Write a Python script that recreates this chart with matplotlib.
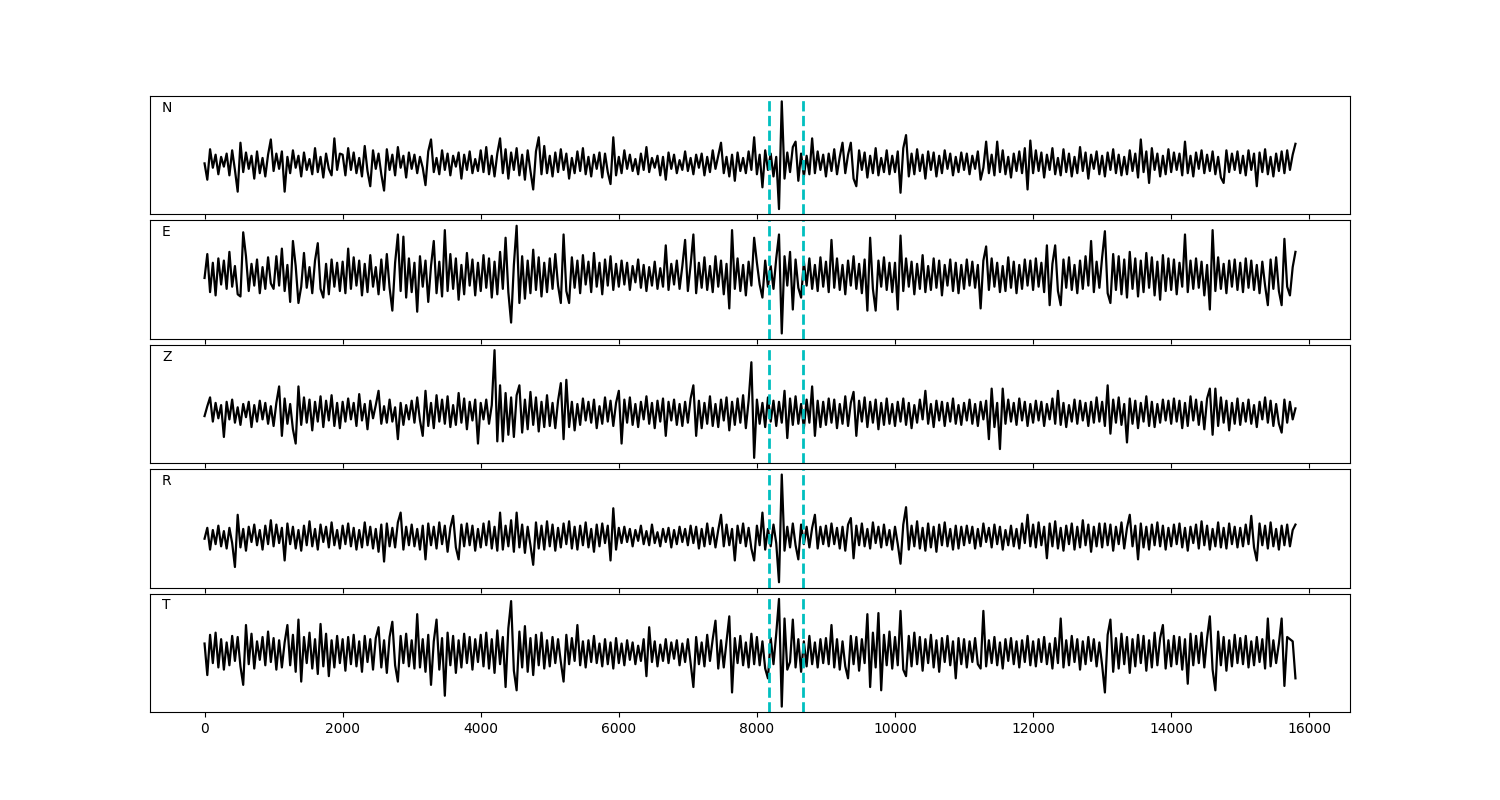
import numpy as np
import matplotlib
matplotlib.use("Agg")
import matplotlib.pyplot as plt

COMPONENTS = ["N", "E", "Z", "R", "T"]
T_START, T_END = 0, 15800
PICKS = [8170, 8670]

N_VALS = [
    0, -15, 13, -4, 8, -10, 6, -3, 9, -11, 12, -6, -26, 19, -8, 10, -5, 7, -14, 11, -9, 5, -12, 8, 22,
    -7, 9, -5, 11, -26, 6, -9, 12, -4, 7, -12, 10, -6, 4, -10, 14, -8, 6, -13, 9, -5, -11, 23, -6, 9,
    8, -11, 14, -6, 10, -9, 5, -12, 16, -7, -21, 12, -5, 9, -10, -25, 13, -6, 8, -11, 15, -4, 7, -13, 10,
    -5, 8, -9, 6, -4, -20, 11, 22, -8, 5, -10, 12, -6, 9, -11, 7, -3, 10, -14, 8, -6, 11, -9, 4, -7,
    12, -8, 15, -10, 7, -12, 9, 23, -9, 13, -14, 10, -6, 14, -11, 8, -15, 12, -7, -24, 11, 24, -10, 16, -9,
    7, -12, 10, -8, 13, -6, 9, -14, 5, -9, 11, -7, 14, -10, 6, -12, 8, -5, 10, -13, 9, -8, -19, 24, -11,
    6, -9, 12, -5, 8, -7, 4, -10, 9, -6, 15, -8, 5, -4, 7, -11, 6, -15, 10, -5, 8, -9, 3, -6, 11,
    -7, 5, -10, 8, -4, 9, -11, 6, -8, 12, -5, 7, 19, -9, 6, -12, 8, -16, 10, -7, 5, -9, 11, -6, 24,
    -10, 8, -22, 12, -6, 9, -12, 6, -42, 57, -14, 10, -8, 15, 20, -16, 9, -12, 7, -10, 23, -9, 11, -6, 8,
    -12, 9, -7, 13, -10, 6, 19, -9, 8, 19, -14, -21, 12, -6, 10, -13, 7, -9, 14, -11, 5, -8, 12, -10, 7,
    -8, 11, -27, 14, 26, -12, 9, -10, 13, -7, 8, -14, 11, -6, 10, -12, 7, -9, 12, -5, 9, -11, 6, -8, 10,
    -6, 9, -10, 7, -5, 11, -15, -4, 20, -9, 8, -11, 20, -8, 12, -10, 6, -13, 9, -7, 11, -9, 14, -24, 21,
    -9, 12, -7, 10, -13, 8, -6, 14, -10, 5, -11, 13, -8, 9, -12, 6, -9, 15, -7, 10, -14, 8, -5, 11, -10,
    7, -12, 10, -6, 13, -9, 8, -11, 6, -10, 12, -7, 9, -13, 22, -8, 11, -18, 14, -6, 9, -12, 7, -10, 13,
    -8, 10, -6, 9, -11, 20, -9, 7, -12, 10, -5, 12, -9, 8, -7, 11, -10, 6, -13, -18, 12, -8, 9, -6, 11,
    -9, 7, -11, 12, -6, 9, -21, 10, -8, 13, -10, 6, -12, 9, -7, 11, -9, 12, -6, 8, 18,
]

E_VALS = [
    -2, 20, -15, 12, -18, 16, -8, 14, -12, 22, -10, 9, -17, -19, 40, 18, -14, 11, -9, 15, -16, 8, -12, 17, -7,
    -12, 18, -9, 25, -14, 10, -24, 32, 9, -25, -10, 21, -11, 8, -16, 14, 30, -12, -20, 11, -17, 15, -10, 12, -14,
    13, -16, 25, -12, 17, -9, 14, -18, 11, -15, 19, -10, 8, -17, 15, -13, 20, -11, -32, 12, 38, -14, 36, -20, 16,
    -15, 12, -33, 18, -10, 14, -24, 9, 32, -16, 13, -19, 42, -14, 20, -12, 16, -22, 10, -17, 21, -9, 15, -18, 12,
    -14, 19, -11, 16, -20, 13, -17, 22, -12, 35, -15, -43, 10, 46, -25, 18, -21, 14, -16, 24, -13, 17, -19, 12, -15,
    16, -12, 20, -9, -25, 38, -14, -25, 17, -11, 14, -16, 19, -8, 13, -15, 21, -10, 12, -17, 15, -9, 18, -13, 11,
    -10, 14, -8, 12, -13, 9, -6, 15, -11, 10, -14, 8, -9, 13, -12, 7, -10, 28, -13, 11, -8, 14, -12, 9, 33,
    -14, 10, 38, -16, 12, -11, 17, -13, 9, -15, 18, -10, 14, -17, 11, -30, 42, -12, 16, -14, 10, -18, 13, -9, 35,
    12, -8, -20, 14, -10, 9, -12, 16, 38, -53, 18, -9, 22, -31, 15, -11, -20, 13, -9, 16, -12, 10, -14, 17, -10,
    13, -15, 33, -11, 16, -13, 10, -17, 14, -9, 18, -12, 11, -16, 15, -32, 35, -12, -32, 14, -10, 17, -13, 12, -15,
    12, -31, 37, -14, 16, -10, 13, -17, 11, -12, 19, -15, 9, -13, 16, -11, 14, -18, 10, -9, 15, -14, 12, -16, 10,
    -12, 15, -9, 13, -11, 10, -30, 14, 27, -13, 16, -10, 12, -15, 9, -14, 17, -11, 13, -16, 10, -12, 15, -9, 14,
    -13, 16, -10, 12, -15, 28, -27, 11, 28, -14, -27, 15, -11, 17, -13, 10, -16, 14, -12, 18, -9, 32, -15, 13, -11,
    17, 41, -16, -25, 20, -13, 18, -17, 15, -20, 22, -12, 16, -19, 14, -15, 21, -11, 17, -18, 13, -22, 19, -14, 16,
    -13, 15, -17, 12, -10, 38, -15, 14, -12, 16, -11, 13, -18, 10, -31, 42, -14, 17, -12, 11, -16, 14, -10, 15, -13,
    12, -15, 16, -11, 14, -13, 10, -16, 13, -9, -27, 15, -12, 17, -14, -27, 34, -10, -18, 8, 22,
]

Z_VALS = [
    -3, 6, 14, -8, 9, -5, 7, -22, 10, -6, 12, -9, 5, -11, 8, -4, 10, -13, 7, -8, 11, -6, 9, -10, 6,
    -12, 9, 24, -21, 13, -10, 8, -15, -28, 24, -11, 14, -9, 12, -16, 10, -8, 15, -13, 11, -7, 16, -12, 9, -14,
    10, -8, 13, -6, 9, -12, 17, -7, 8, -15, 11, -5, 7, 20, -10, 6, -9, 12, -8, 5, -24, 9, -11, 7, -6,
    11, -9, 14, -7, -21, 20, -12, 9, -14, 16, -8, 12, -10, 15, -13, 7, -11, 18, -9, 13, -15, 10, -7, 12, -28,
    9, -6, 12, -10, 7, 57, -26, 25, -26, 18, -20, 14, -22, 16, 25, -18, 12, -15, 19, -11, 14, -17, 10, -13, 16,
    -12, 9, -14, 11, 27, -24, 30, -13, 10, -16, 8, -11, 13, -7, 10, -9, 12, -14, 6, -10, 14, -8, 11, -12, 9,
    20, -28, 12, -9, 14, -11, 8, -13, 10, -6, 15, -10, 9, -14, 11, -8, 13, -21, 10, -7, 12, -11, 8, -12, 10,
    -9, 13, 25, -21, 11, -14, 9, -10, 15, -12, 8, -13, 12, -7, 14, -16, 10, -11, 13, -9, 16, -14, 11, 46, -41,
    12, -10, 9, -13, 14, -8, 11, -12, 10, -9, 20, -23, 13, -11, 15, -10, 8, -14, 12, -9, 24, -21, 11, -13, 10,
    -11, 13, -9, 12, -14, 8, -10, 15, -12, 9, 19, -21, 11, -8, 14, -13, 10, -9, 12, -15, 9, -11, 13, -10, 8,
    -12, 10, -8, 13, -11, 9, -14, 7, -9, 12, -6, 20, -10, 8, -13, 11, -7, 10, -12, 9, -8, 13, -10, 7, -11,
    9, -7, 12, -10, 8, -12, 10, -6, 11, -24, 22, -13, 9, -33, 22, -10, 12, -8, 9, -11, 13, -7, 10, -12, 8,
    -9, 11, -7, 10, -12, 8, -6, 13, -10, 20, -11, 9, -13, 7, -8, 12, -10, 11, -7, 9, -12, 10, -9, 14, -8,
    10, -12, 25, -19, 12, -9, 14, -11, 8, -27, 13, -10, 11, -14, 9, -8, 15, -12, 10, -13, 8, -9, 12, -7, 11,
    -10, 13, -8, 11, -14, 9, -12, 15, -7, 12, -11, 10, -15, 13, 22, -20, 22, -12, 14, -9, 11, -16, 9, -10, 13,
    -11, 9, -8, 12, -10, 7, -13, 10, -6, 14, -9, 11, -12, 8, -10, -18, 12, -9, 10, -6, 4,
]

R_VALS = [
    -2, 8, -12, 6, -7, 10, -9, 5, -11, 8, -6, -28, 20, -10, 7, -13, 9, -5, 11, -8, 6, -12, 10, -7, 15,
    -9, 11, -6, 8, -22, 12, -7, 9, -11, 6, -13, 10, -8, 14, -9, 7, -12, 11, -5, 9, -10, 13, -8, 6, -11,
    10, -7, 12, -9, 8, -12, 6, -10, 13, -8, 9, -11, 7, -14, 11, -23, 12, -9, 8, -10, 13, 22, -12, 9, -8,
    11, -9, 7, -12, 10, -21, 12, -8, 9, -11, 13, -7, 10, -14, 8, 19, -10, -21, 11, -9, 12, -8, 10, -13, 7,
    -10, 12, -8, 14, -11, 9, -13, 22, -12, 10, -9, 15, -14, 22, -10, 11, -15, 9, -8, -26, 13, -11, 10, -12, 14,
    -9, 11, -13, 8, -10, 12, -7, 14, -11, 9, -12, 10, -8, 13, -10, 7, -14, 11, -9, 12, -6, 10, -22, 26, -12,
    8, -6, 9, -5, 7, -9, 6, -4, 10, -7, 5, -8, 11, -6, 4, -9, 7, -5, 8, -10, 6, -7, 9, -5, 7,
    -8, 10, -6, 9, -11, 7, -9, 12, -7, 8, -10, 6, 20, -9, 11, -8, 7, -22, 10, -6, 12, -9, 8, -11, -22,
    10, -8, 22, -12, 7, -9, 11, -6, -42, 57, -13, 9, -10, 12, -8, -21, 11, -7, 9, -10, 8, 20, -11, 9, -7,
    10, -9, 12, -7, 8, -11, 9, -13, 11, 17, -20, 10, -8, 12, -9, 7, -11, 13, -6, 9, -10, 11, -8, 6, -12,
    9, -7, -25, 11, 27, -12, 10, -9, 14, -11, 8, -13, 12, -10, 9, -14, 11, -8, 13, -9, 7, -12, 10, -11, 9,
    -8, 10, -6, 9, -11, 7, -9, 12, -5, 8, -10, 11, -7, 9, -12, 6, -8, 10, -9, 7, -11, 12, -6, 20, -9,
    11, -10, 13, -8, 9, -20, 12, -9, 14, -11, 8, -13, 10, -7, 12, -12, 9, -10, 15, -8, 11, -14, 9, -9, 12,
    -10, 12, -8, 11, -13, 9, -7, 13, -11, 8, 20, -9, 10, -21, 12, -10, 9, -12, 11, -8, 13, -9, 10, -12, 8,
    -9, 11, -7, 12, -10, 8, -13, 9, -6, 11, -11, 14, -8, 10, -12, 7, -9, 13, -10, 8, -11, 12, -7, 9, -10,
    8, -9, 11, -7, 19, -10, -22, 12, -8, 10, -11, 13, -9, 7, -12, 10, -8, 11, -9, 6, 11,
]

T_VALS = [
    8, -21, 16, -10, 18, -14, 12, -16, 9, -12, 15, -8, 14, -13, -30, 25, -11, 17, -15, 10, -7, 14, -12, 19, -9,
    13, -16, 11, -14, 9, 25, -12, 16, -18, 30, -27, 14, -10, 18, -15, 12, -20, 26, -13, 17, -22, 11, -14, 15, -10,
    12, -17, 14, -11, 16, -13, 10, -18, 15, -9, 12, -16, 13, 23, -14, 11, -19, 14, 28, -12, -27, 15, -10, 17, -13,
    11, -15, 35, -14, 12, -18, 16, -30, 10, 30, -16, 13, -40, 18, -12, 15, -19, 11, -14, 17, -10, 14, -16, 12, -9,
    16, -13, 18, -15, 12, -19, 20, -11, 14, -32, 22, 47, -17, -35, 19, -14, 24, -18, 13, -21, 16, -12, 18, -15, 11,
    -13, 14, -10, 12, -9, -27, 16, -11, 13, -8, 25, -12, 10, -14, 11, -9, 15, -10, 8, -13, 12, -11, 9, -15, 13,
    -10, 8, -12, 11, -7, 9, -11, 6, -8, 12, -22, 23, -9, 10, -13, 7, -8, 12, -10, 9, -6, 11, -12, 8, -9,
    12, -10, -32, 14, -11, 9, -13, 16, -8, 12, 29, -15, 11, -14, 10, 33, -37, 13, -10, 15, -12, 9, -14, 17, -11,
    14, -12, 10, -15, -24, 13, -11, 17, 49, -50, 31, -16, -9, 30, -14, 12, -18, 10, -13, 15, -11, 9, -14, 12, -10,
    13, -11, 25, -14, 12, -16, 10, -13, -24, 15, -11, 14, -17, 12, -10, 35, -32, 18, -14, 36, -35, 16, -12, 19, -15,
    14, -12, 38, -16, -22, 15, -13, 18, -11, 14, -17, 12, -10, 16, -14, 11, -18, 13, -9, 15, -12, 10, -24, 13, -11,
    12, -14, 10, -9, 13, -11, -15, 38, -13, 11, -10, 14, -12, 9, -15, 12, -8, 13, -11, 10, -14, 11, -9, 15, -12,
    10, -13, 12, -9, 14, -11, 8, -15, 13, -10, 31, -14, 11, -12, 15, -9, 12, -16, 10, -11, 14, -8, 12, -13, 9,
    -12, -37, 16, 30, -18, 13, -15, 17, -11, 14, -19, 12, -13, 16, -10, 15, -17, 11, -14, 18, -12, 13, 25, -15, 11,
    -13, 15, -11, 14, -16, 12, -29, 17, -12, 15, -10, 18, -14, 13, 33, -16, -35, 19, -12, 14, -17, 11, -13, 16, -10,
    13, -11, 15, -14, 10, -12, 14, -9, 12, -15, 31, -13, 11, -10, 8, 31, -31, 14, 12, 10, -24,
]

TRACES = [N_VALS, E_VALS, Z_VALS, R_VALS, T_VALS]

fig, axes = plt.subplots(5, 1, figsize=(15, 8), dpi=100, sharex=True)
fig.subplots_adjust(left=0.1, right=0.9, top=0.88, bottom=0.11, hspace=0.05)

for ax, name, vals in zip(axes, COMPONENTS, TRACES):
    t = np.linspace(T_START, T_END, len(vals))
    ax.plot(t, vals, color="black", lw=1.6)
    for p in PICKS:
        ax.axvline(p, color="c", ls="--", lw=2)
    ax.set_yticks([])
    ax.text(0.01, 0.9, name, transform=ax.transAxes, va="center", ha="left", fontsize=10)

axes[-1].set_xticks(np.arange(0, 16001, 2000))

fig.savefig("out.png", dpi=100)
